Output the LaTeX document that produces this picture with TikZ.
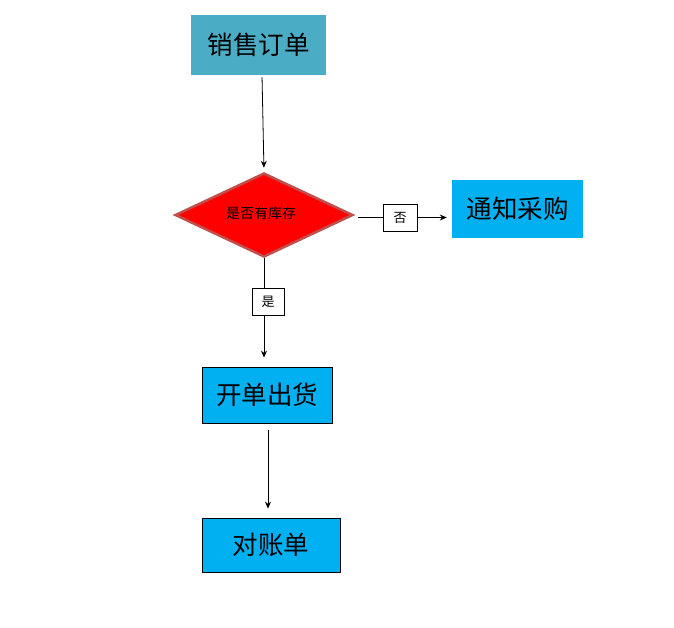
\documentclass[tikz,border=0pt]{standalone}
\usepackage{fontspec}
\newfontfamily\cjk{Noto Sans CJK SC}
\usetikzlibrary{shapes.geometric,arrows.meta}
\definecolor{tealbox}{RGB}{75,172,198}
\definecolor{cyanbox}{RGB}{0,176,240}
\definecolor{diaborder}{RGB}{192,80,77}
\begin{document}
\begin{tikzpicture}[x=1pt,y=-1pt,
  box/.style={rectangle,inner sep=0pt,font=\cjk\fontsize{25.5pt}{30pt}\selectfont},
  lbl/.style={rectangle,draw=black,line width=0.7pt,fill=white,inner sep=0pt,font=\cjk\fontsize{13pt}{15pt}\selectfont},
  conn/.style={draw=black,line width=0.8pt},
  arr/.style={conn,-{Stealth[length=7pt,width=6pt]}}]
\useasboundingbox (0,0) rectangle (674,627);
\node[box,fill=tealbox,minimum width=135pt,minimum height=60pt] (order) at (258.5,45) {销售订单};
\node[diamond,fill=red,draw=diaborder,line width=2.5pt,minimum width=178pt,minimum height=84pt,inner sep=0pt,font=\cjk\fontsize{14pt}{16pt}\selectfont] (dia) at (264,215) {\hspace*{-6pt}\raisebox{5pt}{是否有库存}};
\node[lbl,minimum width=34pt,minimum height=27pt] (no) at (400,217.5) {否};
\node[box,fill=cyanbox,minimum width=131pt,minimum height=58pt] (buy) at (517.5,209) {通知采购};
\node[lbl,minimum width=32pt,minimum height=27pt] (yes) at (268,301.5) {是};
\node[box,fill=cyanbox,draw=black,line width=0.8pt,minimum width=130pt,minimum height=56pt] (ship) at (267,395) {开单出货};
\node[box,fill=cyanbox,draw=black,line width=0.8pt,minimum width=138pt,minimum height=54pt] (recon) at (271,545) {对账单};
\draw[arr,shorten <=2pt,shorten >=4pt] ([xshift=3.5pt]order.south) -- (dia.north);
\draw[conn,shorten <=4pt] (dia.east |- no.west) -- (no.west);
\draw[arr,shorten >=5pt] (no.east) -- (no.east -| buy.west);
\draw[conn] (dia.south) -- (dia.south |- yes.north);
\draw[arr,shorten >=9pt] (dia.south |- yes.south) -- (dia.south |- ship.north);
\draw[arr,shorten <=7pt,shorten >=9pt] ([xshift=1pt]ship.south) -- ([xshift=1pt]ship.south |- recon.north);
\end{tikzpicture}
\end{document}
